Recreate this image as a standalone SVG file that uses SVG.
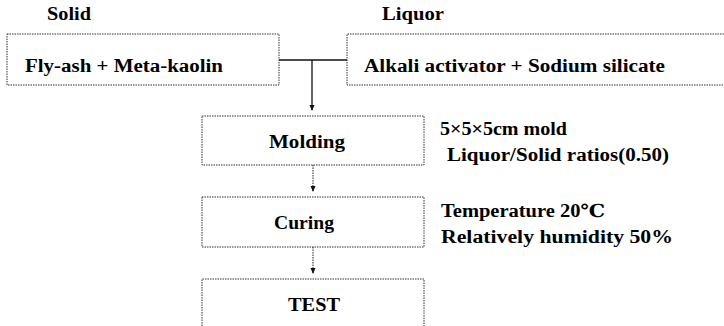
<svg xmlns="http://www.w3.org/2000/svg" width="724" height="326" viewBox="0 0 724 326">
<style>
.box{fill:none;stroke:#333;stroke-width:1;stroke-dasharray:1.5 1}
.ln{stroke:#111;stroke-width:1.3;fill:none}
.dl{stroke:#222;stroke-width:1;stroke-dasharray:1.5 1;fill:none}
</style>
<defs>
<marker id="ah2" markerWidth="6" markerHeight="6" refX="5" refY="3" orient="auto" markerUnits="userSpaceOnUse" viewBox="0 0 6 6">
<path d="M0,0.5 L6,3 L0,5.5 Z" fill="#111"/>
</marker>
</defs>
<g font-family="Liberation Serif, DejaVu Serif, serif" font-weight="bold" font-size="18" fill="#000" lengthAdjust="spacingAndGlyphs">
<g id="labels">
<text x="47" y="20" textLength="44" lengthAdjust="spacingAndGlyphs">Solid</text>
<text x="382" y="20" textLength="62" lengthAdjust="spacingAndGlyphs">Liquor</text>
</g>
<g id="solid">
<rect class="box" x="7" y="34" width="272" height="51"/>
<text x="25" y="72" textLength="198" lengthAdjust="spacingAndGlyphs">Fly-ash + Meta-kaolin</text>
</g>
<g id="liquor">
<path class="box" d="M724,34 H347 V85 H724"/>
<text x="364" y="72" textLength="301" lengthAdjust="spacingAndGlyphs">Alkali activator + Sodium silicate</text>
</g>
<g id="molding">
<rect class="box" x="202" y="116" width="222" height="49"/>
<text x="269" y="148" textLength="76" lengthAdjust="spacingAndGlyphs">Molding</text>
<text x="440" y="135" textLength="127" lengthAdjust="spacingAndGlyphs">5×5×5cm mold</text>
<text x="447" y="161" textLength="222" lengthAdjust="spacingAndGlyphs">Liquor/Solid ratios(0.50)</text>
</g>
<g id="curing">
<rect class="box" x="202" y="197" width="222" height="50"/>
<text x="274" y="229" textLength="60" lengthAdjust="spacingAndGlyphs">Curing</text>
<text x="441" y="217" textLength="164" lengthAdjust="spacingAndGlyphs">Temperature 20℃</text>
<text x="441" y="243" textLength="232" lengthAdjust="spacingAndGlyphs">Relatively humidity 50%</text>
</g>
<g id="test">
<path class="box" d="M202,326 V279 H424 V326"/>
<text x="288" y="311" textLength="52" lengthAdjust="spacingAndGlyphs">TEST</text>
</g>
</g>
<g id="connectors">
<path class="ln" d="M279,60 H347"/>
<path class="ln" d="M312,60 V110" marker-end="url(#ah2)"/>
<path class="dl" d="M313,165 V191" marker-end="url(#ah2)"/>
<path class="dl" d="M313,247 V273" marker-end="url(#ah2)"/>
</g>
</svg>
